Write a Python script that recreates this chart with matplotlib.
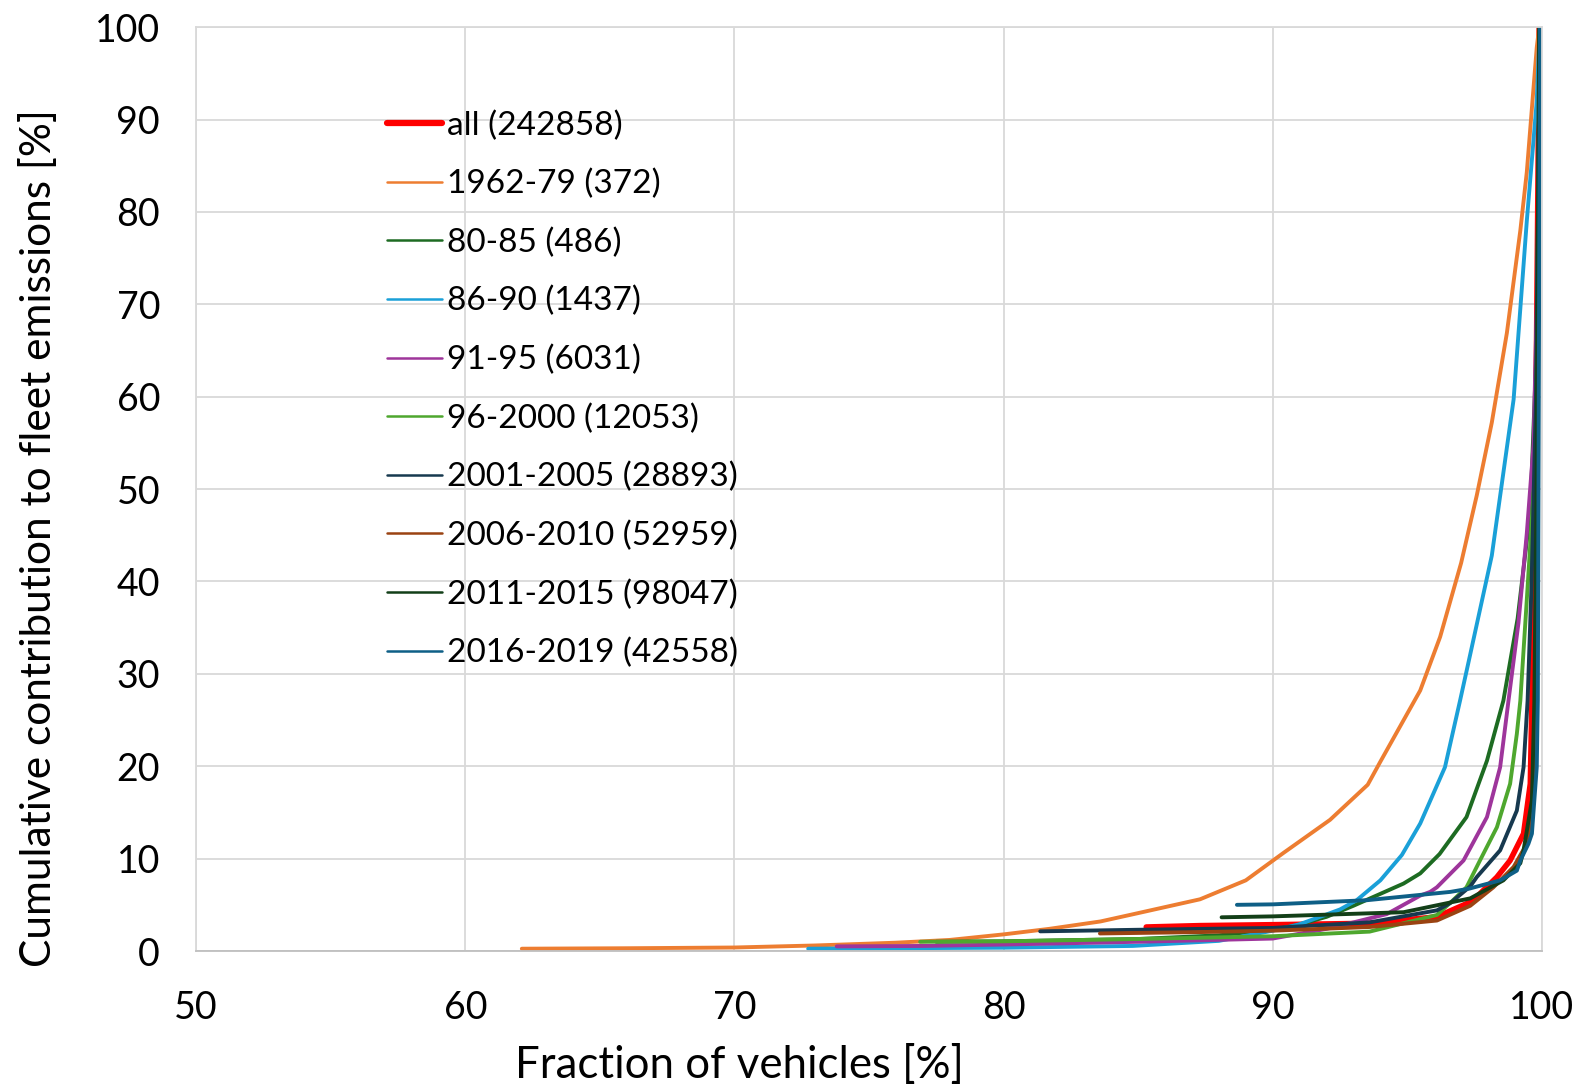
import matplotlib.pyplot as plt

plt.rcParams['font.family'] = ['Lato', 'DejaVu Sans']

# cumulative curves per model-year group (x: fraction of vehicles %, y: share of emissions %)
all_x = [85.3, 87.3, 90.0, 93.6, 96.1, 97.34, 97.7, 98.33, 98.82, 99.32, 99.57, 99.63, 99.72, 99.8, 99.86, 99.9]
all_y = [2.6, 2.75, 2.85, 3.0, 3.7, 5.3, 6.2, 8.0, 9.8, 12.7, 18.1, 27.0, 45.0, 65.0, 85.0, 100.0]

y1962_x = [62.1, 66, 70, 73, 76, 78, 80, 81.7, 83.6, 84.84, 87.3, 89.0, 90.39, 92.13, 93.53, 94.0,
           95.48, 96.22, 97.0, 97.58, 98.14, 98.7, 99.2, 99.44, 99.81, 99.9]
y1962_y = [0.25, 0.3, 0.38, 0.6, 0.9, 1.2, 1.8, 2.4, 3.2, 4.0, 5.6, 7.65, 10.6, 14.2, 18.0, 20.5,
           28.2, 34.0, 42.0, 49.3, 57.2, 66.9, 78.0, 84.3, 97.8, 100.0]

y8085_x = [77.5, 80, 85, 88, 90, 90.9, 92.0, 93.0, 94.86, 95.48, 96.2, 97.2, 97.96, 98.57, 99.1, 99.57, 99.8, 99.93]
y8085_y = [1.0, 1.05, 1.3, 1.7, 2.3, 2.8, 3.7, 4.9, 7.3, 8.4, 10.5, 14.5, 20.6, 27.1, 36.0, 47.6, 65.0, 100.0]

y8690_x = [72.74, 76, 80, 84.8, 88, 90, 91.0, 91.76, 92.5, 93.12, 94.0, 94.8, 95.48, 96.4, 96.96,
           97.27, 98.14, 98.95, 99.44, 99.81, 99.92]
y8690_y = [0.25, 0.3, 0.36, 0.55, 1.1, 2.2, 2.9, 3.7, 4.5, 5.5, 7.65, 10.4, 13.8, 19.9, 27.1,
           31.2, 42.8, 59.7, 79.0, 92.0, 100.0]

y9195_x = [73.8, 77, 80, 85, 90, 92.0, 93.0, 94.24, 95.48, 95.85, 96.1, 97.09, 97.96, 98.45, 98.76,
           99.13, 99.44, 99.69, 99.85, 99.93]
y9195_y = [0.5, 0.55, 0.7, 1.0, 1.35, 2.4, 3.1, 4.0, 6.0, 6.4, 6.9, 9.8, 14.5, 19.9, 27.1,
           35.5, 45.2, 54.8, 75.0, 100.0]

y9600_x = [76.9, 80, 85, 90, 93.6, 96.1, 96.7, 97.2, 97.7, 98.33, 98.82, 99.07, 99.2, 99.44, 99.75, 99.87, 99.93]
y9600_y = [1.0, 1.05, 1.3, 1.6, 2.1, 3.9, 5.5, 6.9, 9.8, 13.4, 18.1, 23.5, 27.1, 38.0, 52.4, 75.0, 100.0]

y0105_x = [81.36, 85, 90, 93.6, 96.1, 96.6, 97.34, 97.58, 98.45, 99.07, 99.32, 99.47, 99.62, 99.78, 99.93]
y0105_y = [2.13, 2.3, 2.5, 3.1, 4.4, 5.2, 7.0, 8.0, 10.9, 15.2, 19.9, 27.1, 40.0, 60.0, 100.0]

y0610_x = [83.58, 87.3, 90, 93.6, 96.1, 97.34, 98.2, 98.95, 99.44, 99.69, 99.75, 99.82, 99.9]
y0610_y = [1.9, 2.05, 2.2, 2.6, 3.3, 4.9, 6.9, 9.1, 11.6, 16.3, 27.1, 50.0, 100.0]

y1115_x = [88.1, 90, 94.86, 97.34, 98.57, 99.2, 99.32, 99.63, 99.72, 99.8, 99.9]
y1115_y = [3.65, 3.75, 4.2, 5.7, 7.65, 9.5, 10.9, 16.3, 27.0, 50.0, 100.0]

y1619_x = [88.67, 90, 93.5, 96.6, 97.3, 98.45, 99.07, 99.2, 99.5, 99.63, 99.81, 99.85, 99.93]
y1619_y = [5.0, 5.05, 5.5, 6.4, 6.75, 7.65, 8.7, 9.8, 11.6, 12.7, 19.9, 27.1, 100.0]

labels = ['all (242858)', '1962-79 (372)', '80-85 (486)', '86-90 (1437)', '91-95 (6031)',
          '96-2000 (12053)', '2001-2005 (28893)', '2006-2010 (52959)', '2011-2015 (98047)',
          '2016-2019 (42558)']
colors = ['#ff0000', '#ed7d31', '#1d6b22', '#1aa0d8', '#9e359b',
          '#4ea72e', '#17394f', '#9a4312', '#133f18', '#0e5f86']

series = [(all_x, all_y), (y1962_x, y1962_y), (y8085_x, y8085_y), (y8690_x, y8690_y),
          (y9195_x, y9195_y), (y9600_x, y9600_y), (y0105_x, y0105_y), (y0610_x, y0610_y),
          (y1115_x, y1115_y), (y1619_x, y1619_y)]

fig = plt.figure(figsize=(15.78, 10.87), dpi=100)
ax = fig.add_axes([0.1243, 0.1251, 0.8528, 0.8499])

for i, (x, y) in enumerate(series):
    lw = 4.0 if i == 0 else 2.8
    ax.plot(x, y, color=colors[i], lw=lw, label=labels[i],
            solid_capstyle='round', solid_joinstyle='round')

ax.set_xlim(50, 100)
ax.set_ylim(0, 100)
ax.set_xticks(range(50, 101, 10))
ax.set_yticks(range(0, 101, 10))
ax.grid(True, color='#d9d9d9', lw=1.3)
ax.set_axisbelow(True)
for s in ax.spines.values():
    s.set_color('#d9d9d9')
    s.set_linewidth(1.3)
ax.spines['bottom'].set_color('#bfbfbf')
ax.tick_params(length=0, labelsize=27)
ax.tick_params(axis='x', pad=28)
ax.tick_params(axis='y', pad=26)

# axis titles sit off-centre, placed in axes coordinates
ax.set_xlabel('Fraction of vehicles [%]', fontsize=31.5, va='center', ha='center')
ax.xaxis.set_label_coords(0.404, -0.124)
ax.set_ylabel('Cumulative contribution to fleet emissions [%]', fontsize=30.5, va='center', ha='center')
ax.yaxis.set_label_coords(-0.1174, 0.447)

leg = ax.legend(loc='upper left', bbox_to_anchor=(0.142, 0.91), frameon=False, fontsize=24,
                handlelength=1.65, handletextpad=0.15, labelspacing=0.845, borderpad=0,
                borderaxespad=0)
for j, h in enumerate(leg.get_lines()):
    h.set_linewidth(4.5 if j == 0 else 1.8)

fig.savefig('out.png', dpi=100)
